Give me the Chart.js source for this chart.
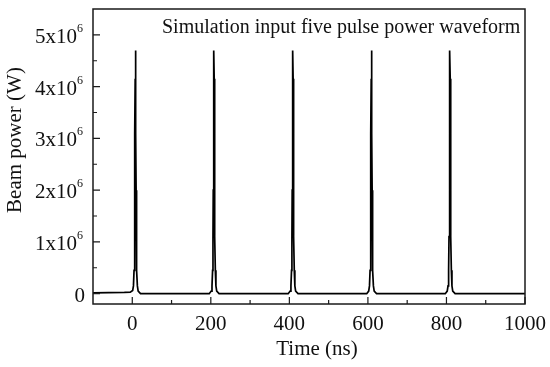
<!DOCTYPE html>
<html>
<head>
<meta charset="utf-8">
<script src="https://cdn.jsdelivr.net/npm/chart.js@4.4.1/dist/chart.umd.min.js"></script>
<style>
  html, body { margin: 0; padding: 0; background: #ffffff; }
</style>
</head>
<body>
<canvas id="pulseChart" width="550" height="367"></canvas>
<script>
// Zeitachse (ns) und Strahlleistung (W)
const timeNs = [
  -100, -20, -5, 1, 3, 4.5, 5.5, 6.2, 6.8, 7.4, 8, 8.6, 9.2, 9.8, 10.5, 11.5, 13, 15, 21,
  196, 201, 203, 204.5, 205.5, 206.2, 206.8, 207.4, 208, 208.6, 209.2, 209.8, 210.5, 211.5, 213, 215, 221,
  397, 402, 404, 405.5, 406.5, 407.2, 407.8, 408.4, 409, 409.6, 410.2, 410.8, 411.5, 412.5, 414, 416, 422,
  597, 602, 604, 605.5, 606.5, 607.2, 607.8, 608.4, 609, 609.6, 610.2, 610.8, 611.5, 612.5, 614, 616, 622,
  797, 802, 804, 805.5, 806.5, 807.2, 807.8, 808.4, 809, 809.6, 810.2, 810.8, 811.5, 812.5, 814, 816, 822,
  1000
];
const beamPower = [
  0.015e6, 0.025e6, 0.03e6, 0.06e6, 0.15e6, 0.45e6, 1.1e6, 2.0e6, 3.1e6, 4.15e6, 4.7e6, 4.15e6, 3.1e6, 2.0e6, 1.1e6, 0.45e6, 0.15e6, 0.05e6, 0,
  0, 0.05e6, 0.15e6, 0.45e6, 1.1e6, 2.0e6, 3.1e6, 4.15e6, 4.7e6, 4.15e6, 3.1e6, 2.0e6, 1.1e6, 0.45e6, 0.15e6, 0.05e6, 0,
  0, 0.05e6, 0.15e6, 0.45e6, 1.1e6, 2.0e6, 3.1e6, 4.15e6, 4.7e6, 4.15e6, 3.1e6, 2.0e6, 1.1e6, 0.45e6, 0.15e6, 0.05e6, 0,
  0, 0.05e6, 0.15e6, 0.45e6, 1.1e6, 2.0e6, 3.1e6, 4.15e6, 4.7e6, 4.15e6, 3.1e6, 2.0e6, 1.1e6, 0.45e6, 0.15e6, 0.05e6, 0,
  0, 0.05e6, 0.15e6, 0.45e6, 1.1e6, 2.0e6, 3.1e6, 4.15e6, 4.7e6, 4.15e6, 3.1e6, 2.0e6, 1.1e6, 0.45e6, 0.15e6, 0.05e6, 0,
  0
];

// Achsenbeschriftung
const xMajorTicks = [0, 200, 400, 600, 800, 1000];
const xMinorTicks = [100, 300, 500, 700, 900];
const yMajorTicks = [0, 1e6, 2e6, 3e6, 4e6, 5e6];
const yMinorTicks = [0.5e6, 1.5e6, 2.5e6, 3.5e6, 4.5e6];
const yTickMantissa = ['0', '1', '2', '3', '4', '5'];

const serif = "'Liberation Serif', 'Times New Roman', serif";

// Rahmen, innenliegende Ticks und Texte zeichnen
const framePlugin = {
  id: 'framePlugin',
  afterDraw(chart) {
    const ctx = chart.ctx;
    const area = chart.chartArea;
    const xs = chart.scales.x;
    const ys = chart.scales.y;
    ctx.save();
    ctx.strokeStyle = '#1a1a1a';
    ctx.lineWidth = 1.5;
    ctx.strokeRect(area.left, area.top, area.right - area.left, area.bottom - area.top);

    ctx.lineWidth = 1.2;
    ctx.beginPath();
    xMajorTicks.forEach(v => {
      const px = xs.getPixelForValue(v);
      ctx.moveTo(px, area.bottom); ctx.lineTo(px, area.bottom - 7);
    });
    xMinorTicks.forEach(v => {
      const px = xs.getPixelForValue(v);
      ctx.moveTo(px, area.bottom); ctx.lineTo(px, area.bottom - 4);
    });
    yMajorTicks.forEach(v => {
      const py = ys.getPixelForValue(v);
      ctx.moveTo(area.left, py); ctx.lineTo(area.left + 7, py);
    });
    yMinorTicks.forEach(v => {
      const py = ys.getPixelForValue(v);
      ctx.moveTo(area.left, py); ctx.lineTo(area.left + 4, py);
    });
    ctx.stroke();

    // Y-Tickbeschriftung mit hochgestelltem Exponenten
    ctx.fillStyle = '#111';
    ctx.textBaseline = 'alphabetic';
    yMajorTicks.forEach((v, i) => {
      const py = ys.getPixelForValue(v);
      if (v === 0) {
        ctx.font = '21px ' + serif;
        ctx.textAlign = 'right';
        ctx.fillText('0', area.left - 8, py + 8);
        return;
      }
      ctx.font = '12px ' + serif;
      ctx.textAlign = 'right';
      const expRight = area.left - 10;
      ctx.fillText('6', expRight, py - 3);
      const expW = ctx.measureText('6').width;
      ctx.font = '21px ' + serif;
      ctx.fillText(yTickMantissa[i] + 'x10', expRight - expW, py + 8);
    });

    // Achsentitel
    ctx.font = '21px ' + serif;
    ctx.textAlign = 'center';
    ctx.fillText('Time (ns)', 317, 355);
    ctx.save();
    ctx.translate(21, 140);
    ctx.rotate(-Math.PI / 2);
    ctx.fillText('Beam power (W)', 0, 0);
    ctx.restore();

    // Beschriftung im Diagramm
    ctx.font = '20px ' + serif;
    ctx.textAlign = 'left';
    ctx.fillText('Simulation input five pulse power waveform', 162, 33);
    ctx.restore();
  }
};

const ctx = document.getElementById('pulseChart').getContext('2d');
new Chart(ctx, {
  type: 'line',
  data: {
    datasets: [{
      label: 'Beam power',
      data: timeNs.map((t, i) => ({ x: t, y: beamPower[i] })),
      borderColor: '#000000',
      borderWidth: 1.7,
      pointRadius: 0,
      fill: false,
      tension: 0
    }]
  },
  options: {
    responsive: false,
    animation: false,
    layout: { padding: { top: 9, right: 25, left: 0, bottom: 0 } },
    scales: {
      x: {
        type: 'linear',
        min: -100,
        max: 1000,
        grid: { display: false, drawTicks: false },
        border: { display: false },
        afterBuildTicks: scale => { scale.ticks = xMajorTicks.map(v => ({ value: v })); },
        afterFit: scale => {
          scale.height = 63;
          scale.paddingLeft = 0;
          scale.paddingRight = 0;
        },
        ticks: {
          color: '#111',
          padding: 8,
          maxRotation: 0,
          font: { family: serif, size: 21 },
          callback: v => String(v)
        }
      },
      y: {
        type: 'linear',
        min: -0.2e6,
        max: 5.5e6,
        grid: { display: false, drawTicks: false },
        border: { display: false },
        afterBuildTicks: scale => { scale.ticks = yMajorTicks.map(v => ({ value: v })); },
        afterFit: scale => { scale.width = 93; },
        ticks: { display: false }
      }
    },
    plugins: {
      legend: { display: false },
      tooltip: { enabled: false }
    }
  },
  plugins: [framePlugin]
});
</script>
</body>
</html>
